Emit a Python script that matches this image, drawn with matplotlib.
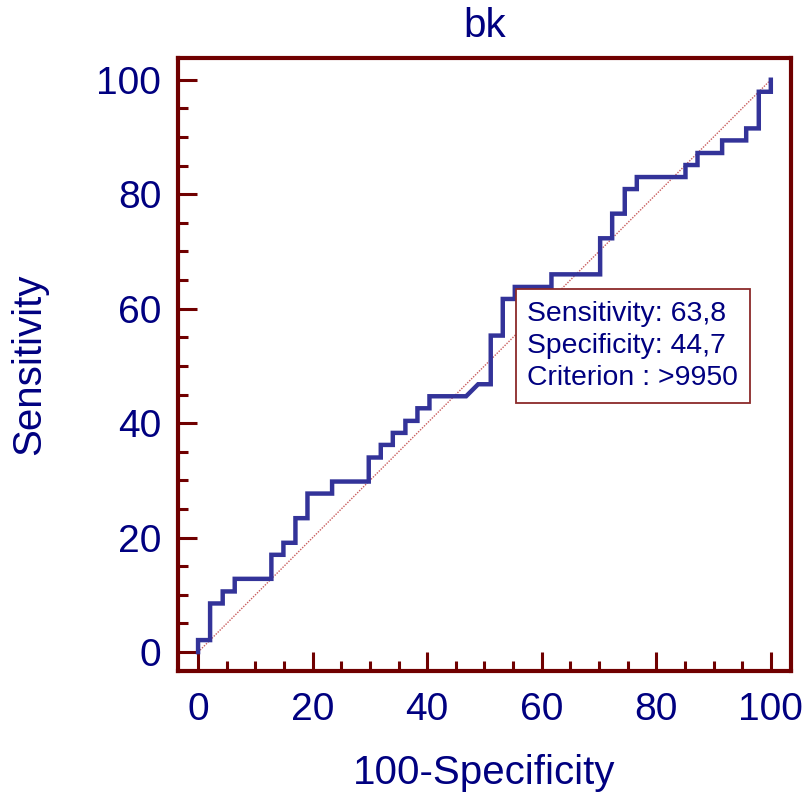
import matplotlib
matplotlib.use("Agg")
import matplotlib.pyplot as plt
from matplotlib.ticker import MultipleLocator

# ROC curve vertices (100-Specificity, Sensitivity)
fpr = [0, 0, 2.1, 2.1, 4.3, 4.3, 6.4, 6.4, 12.8, 12.8, 14.9, 14.9, 17.0, 17.0,
       19.1, 19.1, 23.4, 23.4, 29.8, 29.8, 31.9, 31.9, 34.0, 34.0, 36.2, 36.2,
       38.3, 38.3, 40.4, 40.4, 46.8, 48.9, 51.1, 51.1, 53.2, 53.2, 55.3, 55.3,
       61.7, 61.7, 70.2, 70.2, 72.3, 72.3, 74.5, 74.5, 76.6, 76.6, 85.1, 85.1,
       87.2, 87.2, 91.5, 91.5, 95.7, 95.7, 97.9, 97.9, 100, 100]
tpr = [0, 2.1, 2.1, 8.5, 8.5, 10.6, 10.6, 12.8, 12.8, 17.0, 17.0, 19.1, 19.1, 23.4,
       23.4, 27.7, 27.7, 29.8, 29.8, 34.0, 34.0, 36.2, 36.2, 38.3, 38.3, 40.4,
       40.4, 42.6, 42.6, 44.7, 44.7, 46.8, 46.8, 55.3, 55.3, 61.7, 61.7, 63.8,
       63.8, 66.0, 66.0, 72.3, 72.3, 76.6, 76.6, 80.9, 80.9, 83.0, 83.0, 85.1,
       85.1, 87.2, 87.2, 89.4, 89.4, 91.5, 91.5, 97.9, 97.9, 100]

crit_x, crit_y = 55.3, 63.8
info = ["Sensitivity: 63,8", "Specificity: 44,7", "Criterion : >9950"]

navy = "#000080"
red = "#700000"

plt.rcParams['font.family'] = ['Liberation Sans', 'DejaVu Sans']

fig = plt.figure(figsize=(8.07, 8.01), dpi=100)
ax = fig.add_axes([0.2206, 0.1623, 0.7594, 0.7653])

ax.plot([0, 100], [0, 100], color="#c04040", lw=1.0, ls=(0, (1, 1)), alpha=0.85)
ax.plot(fpr, tpr, color="#333399", lw=3.2, solid_joinstyle='miter')

ax.set_xlim(-3.5, 103.5)
ax.set_ylim(-3.3, 103.8)
ax.xaxis.set_major_locator(MultipleLocator(20))
ax.yaxis.set_major_locator(MultipleLocator(20))
ax.xaxis.set_minor_locator(MultipleLocator(5))
ax.yaxis.set_minor_locator(MultipleLocator(5))

for s in ax.spines.values():
    s.set_color(red)
    s.set_linewidth(3)
ax.tick_params(which='both', direction='in', color=red, width=2.2,
               top=False, right=False, labelcolor=navy, labelsize=28)
ax.tick_params(which='major', length=14, pad=12)
ax.tick_params(axis='x', which='major', pad=15)
ax.tick_params(which='minor', length=7)

ax.set_xlabel("100-Specificity", fontsize=29, color=navy, labelpad=19)
ax.set_ylabel("Sensitivity", fontsize=29, color=navy, labelpad=35)
ax.set_title("bk", fontsize=29, color=navy, pad=15)

ax.text(crit_x + 2.2, crit_y - 2.4, "\n".join(info), fontsize=20.4, color=navy,
        va='top', ha='left', linespacing=1.32,
        bbox=dict(boxstyle='square,pad=0.4', fc='white', ec='#8b2a2a', lw=1.3))

fig.savefig("out.png", dpi=100)
